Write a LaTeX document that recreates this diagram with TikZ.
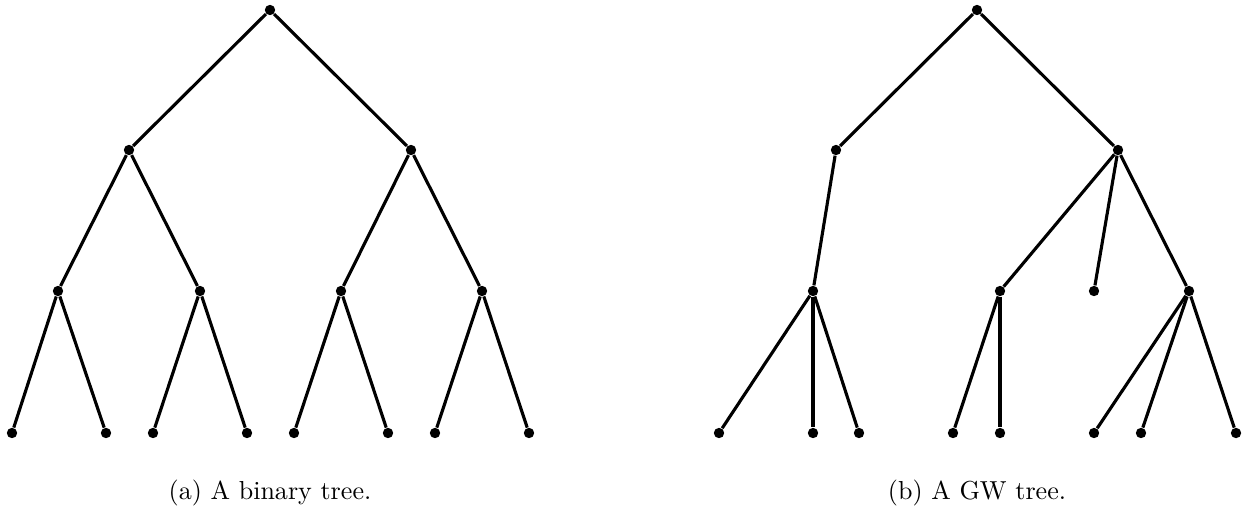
\documentclass[tikz,border=0pt]{standalone}
\usepackage{amsmath,amssymb}
\usepackage{tikz}
\usetikzlibrary{positioning,calc}
\colorlet{edgecolor}{black}

\begin{document}
\begin{tikzpicture}[
  x=0.0135cm, y=-0.0135cm,
  vtx/.style={circle, fill=black, draw=none, inner sep=0pt, minimum size=0.14cm},
  edge/.style={line width=1.2pt, color=edgecolor},
  capt/.style={font=\normalsize, anchor=base}
]
\useasboundingbox (0,0) rectangle (1248,520);

% (a) binary tree
\node[vtx] (a) at (270,10) {};
\node[vtx] (a0) at (129,150) {};
\node[vtx] (a1) at (411,150) {};
\node[vtx] (a00) at (58,291) {};
\node[vtx] (a01) at (200,291) {};
\node[vtx] (a10) at (341,291) {};
\node[vtx] (a11) at (482,291) {};
\node[vtx] (a000) at (12,433) {};
\node[vtx] (a001) at (106,433) {};
\node[vtx] (a010) at (153,433) {};
\node[vtx] (a011) at (247,433) {};
\node[vtx] (a100) at (294,433) {};
\node[vtx] (a101) at (388,433) {};
\node[vtx] (a110) at (435,433) {};
\node[vtx] (a111) at (529,433) {};

\foreach \p/\c in {a/a0, a/a1, a0/a00, a0/a01, a1/a10, a1/a11,
                   a00/a000, a00/a001, a01/a010, a01/a011,
                   a10/a100, a10/a101, a11/a110, a11/a111}
  \draw[edge] (\p) -- (\c);

\node[capt] (capa) at (270,499) {(a) A binary tree.};

% (b) GW tree
\node[vtx] (g) at (977,10) {};
\node[vtx] (g0) at (836,150) {};
\node[vtx] (g1) at (1118,150) {};
\node[vtx] (g00) at (813,291) {};
\node[vtx] (g10) at (1000,291) {};
\node[vtx] (g11) at (1094,291) {};
\node[vtx] (g12) at (1189,291) {};
\node[vtx] (g000) at (719,433) {};
\node[vtx] (g001) at (813,433) {};
\node[vtx] (g002) at (859,433) {};
\node[vtx] (g100) at (953,433) {};
\node[vtx] (g101) at (1000,433) {};
\node[vtx] (g120) at (1094,433) {};
\node[vtx] (g121) at (1141,433) {};
\node[vtx] (g122) at (1236,433) {};

\foreach \p/\c in {g/g0, g/g1, g0/g00, g1/g10, g1/g11, g1/g12,
                   g00/g000, g00/g001, g00/g002, g10/g100, g10/g101,
                   g12/g120, g12/g121, g12/g122}
  \draw[edge] (\p) -- (\c);

\node[capt] (capb) at (977,499) {(b) A GW tree.};
\end{tikzpicture}
\end{document}
